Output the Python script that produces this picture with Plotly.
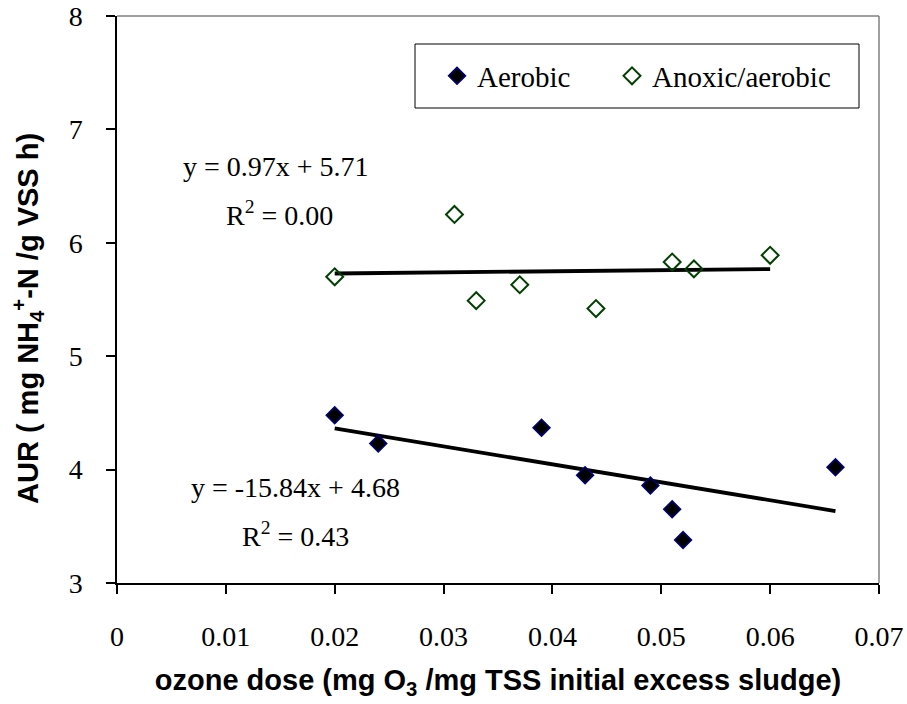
import plotly.graph_objects as go

# ---- data ----
aer_x = [0.020, 0.024, 0.039, 0.043, 0.049, 0.051, 0.052, 0.066]
aer_y = [4.48, 4.23, 4.37, 3.95, 3.86, 3.65, 3.38, 4.02]
anox_x = [0.020, 0.031, 0.033, 0.037, 0.044, 0.051, 0.053, 0.060]
anox_y = [5.70, 6.25, 5.49, 5.63, 5.42, 5.83, 5.77, 5.89]

aer_slope, aer_icpt = -15.84, 4.68
anox_slope, anox_icpt = 0.97, 5.71

x_ticks = [0, 0.01, 0.02, 0.03, 0.04, 0.05, 0.06, 0.07]
x_ticklabels = ["0", "0.01", "0.02", "0.03", "0.04", "0.05", "0.06", "0.07"]
y_ticks = [3, 4, 5, 6, 7, 8]

SERIF = "Liberation Serif, Times New Roman, serif"
SANS = "Liberation Sans, Arial, sans-serif"

fig = go.Figure()

# trendlines
ax0, ax1 = min(aer_x), max(aer_x)
nx0, nx1 = min(anox_x), max(anox_x)
fig.add_trace(go.Scatter(x=[ax0, ax1], y=[aer_slope * ax0 + aer_icpt, aer_slope * ax1 + aer_icpt],
                         mode="lines", line=dict(color="black", width=3.8), showlegend=False, hoverinfo="skip"))
fig.add_trace(go.Scatter(x=[nx0, nx1], y=[anox_slope * nx0 + anox_icpt, anox_slope * nx1 + anox_icpt],
                         mode="lines", line=dict(color="black", width=3.8), showlegend=False, hoverinfo="skip"))

fig.add_trace(go.Scatter(x=aer_x, y=aer_y, mode="markers", name="Aerobic", legend="legend",
                         marker=dict(symbol="diamond", size=13, color="black",
                                     line=dict(color="#000080", width=1.5))))
fig.add_trace(go.Scatter(x=anox_x, y=anox_y, mode="markers", name="Anoxic/aerobic", legend="legend2",
                         marker=dict(symbol="diamond-open", size=13, color="#004000",
                                     line=dict(color="#004000", width=2))))

L, R, T, B = 117, 28, 16, 121
PW = 907 - L - R
PH = 704 - T - B


def px_x(p):
    return (p - L) / PW


def px_y(p):
    return (704 - B - p) / PH


leg_font = dict(family=SERIF, size=29, color="black")
leg_common = dict(orientation="h", xanchor="left", yanchor="middle", y=px_y(76),
                  bgcolor="rgba(0,0,0,0)", borderwidth=0, font=leg_font)

fig.update_layout(
    width=907, height=704,
    margin=dict(l=L, r=R, t=T, b=B),
    paper_bgcolor="white", plot_bgcolor="white",
    font=dict(family=SERIF, size=28, color="black"),
    showlegend=True,
    legend=dict(x=px_x(437), **leg_common),
    legend2=dict(x=px_x(612), **leg_common),
    xaxis=dict(range=[0, 0.07], tickvals=x_ticks, ticktext=x_ticklabels, automargin=False,
               showgrid=False, zeroline=False, showline=True, linecolor="black", linewidth=1.5,
               ticks="outside", ticklen=9, tickwidth=1.5, tickcolor="black",
               ticklabelstandoff=19,
               tickfont=dict(family=SERIF, size=28, color="black"),
               title=dict(text="ozone dose (mg O<sub>3</sub> /mg TSS initial excess sludge)",
                          font=dict(family=SANS, size=29, color="black", weight="bold"), standoff=18)),
    yaxis=dict(range=[3, 8], tickvals=y_ticks, automargin=False,
               showgrid=False, zeroline=False, showline=True, linecolor="black", linewidth=1.5,
               ticks="outside", ticklen=9, tickwidth=1.5, tickcolor="black",
               ticklabelstandoff=18,
               tickfont=dict(family=SERIF, size=28, color="black")),
)

# y-axis title (placed to match the reference's vertical offset)
fig.add_annotation(xref="paper", yref="paper", x=px_x(28), y=px_y(319), showarrow=False,
                   textangle=-90, xanchor="center", yanchor="middle",
                   text="AUR ( mg NH<sub>4</sub><sup>+</sup>-N /g VSS h)",
                   font=dict(family=SANS, size=29, color="black", weight="bold"))

# top / right plot-area border (grey)
fig.add_shape(type="line", xref="paper", yref="paper", x0=0, x1=1, y0=1, y1=1,
              line=dict(color="#808080", width=1.5))
fig.add_shape(type="line", xref="paper", yref="paper", x0=1, x1=1, y0=0, y1=1,
              line=dict(color="#808080", width=1.5))
# legend frame
fig.add_shape(type="rect", xref="paper", yref="paper", x0=px_x(415), x1=px_x(859), y0=px_y(108), y1=px_y(44),
              line=dict(color="black", width=1), fillcolor="rgba(0,0,0,0)")

ann_font = dict(family=SERIF, size=28, color="black")
fig.add_annotation(x=0.01462, y=6.67, xref="x", yref="y", showarrow=False,
                   text="y = 0.97x + 5.71", font=ann_font)
fig.add_annotation(x=0.01490, y=6.26, xref="x", yref="y", showarrow=False,
                   text="R<sup>2</sup> = 0.00", font=ann_font)
fig.add_annotation(x=0.01640, y=3.84, xref="x", yref="y", showarrow=False,
                   text="y = -15.84x + 4.68", font=ann_font)
fig.add_annotation(x=0.01640, y=3.43, xref="x", yref="y", showarrow=False,
                   text="R<sup>2</sup> = 0.43", font=ann_font)

fig.write_html("out.html")
